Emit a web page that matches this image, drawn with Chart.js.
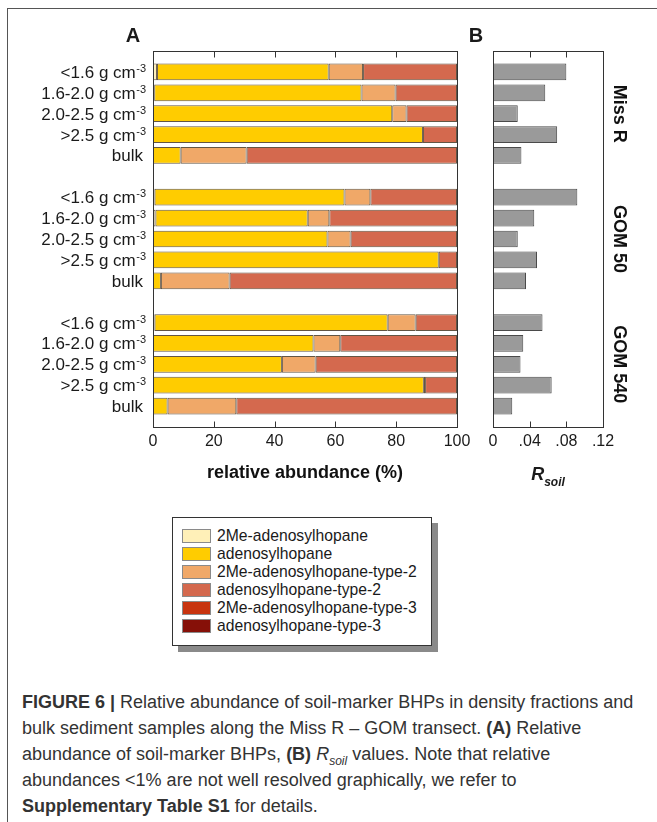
<!DOCTYPE html>
<html>
<head>
<meta charset="utf-8">
<title>Figure 6</title>
<script src="https://cdn.jsdelivr.net/npm/chart.js@4.4.1/dist/chart.umd.min.js"></script>
<style>
  body { margin: 0; background: #fff; font-family: 'Liberation Sans', Arial, sans-serif; color: #1a1a1a; }
  #page { position: relative; width: 657px; height: 822px; overflow: hidden; }
  #frame { position: absolute; left: 7px; top: 8px; width: 720px; height: 900px;
           border-left: 1px solid #555; border-top: 1px solid #555; }
  canvas { position: absolute; top: 0; }
  #chartA { left: 0; }
  #chartB { left: 470px; }
  .panel { position: absolute; font-weight: bold; font-size: 20px; line-height: 20px;
           transform: translate(-50%, -50%); }
  #rsoil { position: absolute; left: 548px; top: 464px; transform: translateX(-50%);
           font-weight: bold; font-style: italic; font-size: 18px; line-height: 20px; white-space: nowrap; }
  #rsoil sub { font-size: 12px; position: relative; top: 1px; line-height: 0; }
  #legend { position: absolute; left: 172px; top: 517px; width: 260px; height: 129px;
            box-sizing: border-box; border: 1px solid #333; background: #fff;
            box-shadow: 6px 6px 0 #8a8a8a; padding: 9px 0 0 9px; }
  .legend-item { display: flex; align-items: center; height: 18px; font-size: 15.7px; white-space: nowrap; }
  .legend-swatch { width: 29px; height: 14px; box-sizing: border-box; border: 1px solid #8a8a8a; margin-right: 6px; }
  #caption { position: absolute; left: 22px; top: 689px; font-size: 18px; line-height: 26px; color: #333; }
  #caption div { white-space: nowrap; height: 26px; }
  #caption sub { font-size: 12px; line-height: 0; }
</style>
</head>
<body>
<div id="page">
  <div id="frame"></div>
  <canvas id="chartA" width="480" height="488"></canvas>
  <canvas id="chartB" width="187" height="488"></canvas>
  <div class="panel" style="left:133px; top:35px;">A</div>
  <div class="panel" style="left:476px; top:35px;">B</div>
  <div id="rsoil">R<sub>soil</sub></div>
  <div id="legend"></div>
  <div id="caption">
    <div><b>FIGURE 6 |</b> Relative abundance of soil-marker BHPs in density fractions and</div>
    <div>bulk sediment samples along the Miss R – GOM transect. <b>(A)</b> Relative</div>
    <div>abundance of soil-marker BHPs, <b>(B)</b> <i>R<sub>soil</sub></i> values. Note that relative</div>
    <div>abundances &lt;1% are not well resolved graphically, we refer to</div>
    <div><b>Supplementary Table S1</b> for details.</div>
  </div>
</div>
<script>
const groupNames = ['Miss R', 'GOM 50', 'GOM 540'];
const fractionLabels = ['<1.6 g cm-3', '1.6-2.0 g cm-3', '2.0-2.5 g cm-3', '>2.5 g cm-3', 'bulk'];
const compoundNames = ['2Me-adenosylhopane', 'adenosylhopane', '2Me-adenosylhopane-type-2',
                       'adenosylhopane-type-2', '2Me-adenosylhopane-type-3', 'adenosylhopane-type-3'];
const compoundColors = ['#fff0b8', '#ffcc00', '#f0a868', '#d4694e', '#c8340f', '#861008'];

// relative abundance (%), rows: Miss R, GOM 50, GOM 540, each in fractionLabels order
const me2Adeno = [1.3, 0.4, 0, 0, 0,   0.5, 0.8, 0, 0, 0,   0.5, 0, 0, 0, 0];
const adeno    = [56.5, 68.2, 78.7, 88.8, 9.1,   62.5, 50.1, 57.4, 94.0, 2.6,   76.7, 52.8, 42.4, 89.1, 4.8];
const me2Type2 = [11.3, 11.2, 4.7, 0, 21.7,   8.5, 7.1, 7.6, 0, 22.6,   9.2, 8.8, 11.1, 0.4, 22.6];
const type2    = [30.9, 20.2, 16.6, 11.2, 69.2,   28.5, 42.0, 35.0, 6.0, 74.8,   13.6, 38.4, 46.5, 10.5, 72.6];
const me2Type3 = [0, 0, 0, 0, 0,   0, 0, 0, 0, 0,   0, 0, 0, 0, 0];
const type3    = [0, 0, 0, 0, 0,   0, 0, 0, 0, 0,   0, 0, 0, 0, 0];

// R_soil values, same row order
const rSoil = [0.080, 0.057, 0.027, 0.070, 0.031,   0.092, 0.045, 0.027, 0.048, 0.036,   0.054, 0.033, 0.030, 0.064, 0.021];

const abundanceTicks = [0, 20, 40, 60, 80, 100];
const rsoilTicks = [0, 0.04, 0.08, 0.12];

Chart.defaults.font.family = "'Liberation Sans', Arial, sans-serif";
Chart.defaults.color = '#1a1a1a';

// one empty slot between the sample groups
const rowPos = groupNames.flatMap((g, gi) =>
    fractionLabels.map((f, fi) => gi * (fractionLabels.length + 1) + fi));
const lastRow = rowPos[rowPos.length - 1];

function toPoints(values) {
    return values.map((v, i) => ({ x: v, y: rowPos[i] })).filter((p) => p.x > 0);
}

const framePlugin = {
    id: 'frame',
    afterDatasetsDraw(chart) {
        const { ctx, chartArea: a } = chart;
        const x = chart.scales.x;
        ctx.save();
        ctx.strokeStyle = '#333';
        ctx.lineWidth = 1;
        const l = Math.round(a.left) + 0.5, t = Math.round(a.top) + 0.5;
        const r = Math.round(a.right) + 0.5, b = Math.round(a.bottom) + 0.5;
        ctx.strokeRect(l, t, r - l, b - t);
        ctx.beginPath();
        x.ticks.forEach((tick) => {
            const px = Math.round(x.getPixelForValue(tick.value)) + 0.5;
            ctx.moveTo(px, t);
            ctx.lineTo(px, t + 6);
            ctx.moveTo(px, b);
            ctx.lineTo(px, b - 6);
        });
        ctx.stroke();
        ctx.restore();
    }
};

const rowLabelPlugin = {
    id: 'rowLabels',
    afterDraw(chart) {
        const { ctx, chartArea } = chart;
        const y = chart.scales.y;
        ctx.save();
        ctx.fillStyle = '#1a1a1a';
        ctx.textAlign = 'right';
        ctx.textBaseline = 'alphabetic';
        rowPos.forEach((p, i) => {
            const label = fractionLabels[i % fractionLabels.length];
            const base = y.getPixelForValue(p) + 6;
            let x = chartArea.left - 7;
            if (label.endsWith('cm-3')) {
                ctx.font = "11px 'Liberation Sans', Arial, sans-serif";
                ctx.fillText('-3', x, base - 6);
                x -= ctx.measureText('-3').width + 0.5;
                ctx.font = "17px 'Liberation Sans', Arial, sans-serif";
                ctx.fillText(label.slice(0, -2), x, base);
            } else {
                ctx.font = "17px 'Liberation Sans', Arial, sans-serif";
                ctx.fillText(label, x - 3, base);
            }
        });
        ctx.restore();
    }
};

const groupLabelPlugin = {
    id: 'groupLabels',
    afterDraw(chart) {
        const ctx = chart.ctx;
        const y = chart.scales.y;
        const mid = Math.floor(fractionLabels.length / 2);
        ctx.save();
        ctx.fillStyle = '#111';
        ctx.font = "bold 18px 'Liberation Sans', Arial, sans-serif";
        ctx.textAlign = 'center';
        ctx.textBaseline = 'middle';
        groupNames.forEach((name, gi) => {
            const py = y.getPixelForValue(rowPos[gi * fractionLabels.length + mid]);
            ctx.save();
            ctx.translate(149, py);
            ctx.rotate(Math.PI / 2);
            ctx.fillText(name, 0, 0);
            ctx.restore();
        });
        ctx.restore();
    }
};

function yAxis(width) {
    return {
        type: 'linear',
        reverse: true,
        offset: false,
        min: -1,
        max: lastRow + 1,
        stacked: true,
        ticks: { display: false },
        grid: { display: false, drawTicks: false, offset: false },
        border: { display: false },
        afterFit: (s) => { s.width = width; }
    };
}

function xAxis(min, max, tickValues, format, title) {
    return {
        type: 'linear',
        min: min,
        max: max,
        stacked: true,
        afterBuildTicks: (s) => { s.ticks = tickValues.map((v) => ({ value: v })); },
        ticks: {
            font: { size: 16 },
            color: '#1a1a1a',
            padding: 5,
            maxRotation: 0,
            callback: format
        },
        grid: { display: false, drawTicks: false },
        border: { display: false },
        title: {
            display: !!title,
            text: title || '',
            font: { size: 18, weight: 'bold' },
            color: '#111',
            padding: { top: 4, bottom: 4 }
        },
        afterFit: (s) => { s.height = 61; }
    };
}

const seriesA = [me2Adeno, adeno, me2Type2, type2, me2Type3, type3];

new Chart(document.getElementById('chartA'), {
    type: 'bar',
    data: {
        datasets: seriesA.map((values, k) => ({
            label: compoundNames[k],
            data: toPoints(values),
            backgroundColor: compoundColors[k],
            borderColor: 'rgba(70,55,35,0.85)',
            borderWidth: 1,
            borderSkipped: false,
            categoryPercentage: 1,
            barPercentage: 0.8
        }))
    },
    options: {
        indexAxis: 'y',
        responsive: false,
        animation: false,
        devicePixelRatio: 1,
        layout: { padding: { left: 0, top: 51, right: 23, bottom: 0 } },
        plugins: { legend: { display: false }, tooltip: { enabled: false } },
        scales: {
            x: xAxis(0, 100, abundanceTicks, (v) => String(v), 'relative abundance (%)'),
            y: yAxis(153)
        }
    },
    plugins: [framePlugin, rowLabelPlugin]
});

new Chart(document.getElementById('chartB'), {
    type: 'bar',
    data: {
        datasets: [{
            label: 'Rsoil',
            data: toPoints(rSoil),
            backgroundColor: '#9a9a9a',
            borderColor: '#4a4a4a',
            borderWidth: 1,
            borderSkipped: false,
            categoryPercentage: 1,
            barPercentage: 0.8
        }]
    },
    options: {
        indexAxis: 'y',
        responsive: false,
        animation: false,
        devicePixelRatio: 1,
        layout: { padding: { left: 0, top: 51, right: 54, bottom: 0 } },
        plugins: { legend: { display: false }, tooltip: { enabled: false } },
        scales: {
            x: xAxis(0, 0.12, rsoilTicks, (v) => (v === 0 ? '0' : v.toFixed(2).replace(/^0/, '')), null),
            y: yAxis(23)
        }
    },
    plugins: [framePlugin, groupLabelPlugin]
});

const legendRoot = document.getElementById('legend');
compoundNames.forEach((name, k) => {
    const item = document.createElement('div');
    item.className = 'legend-item';
    const swatch = document.createElement('div');
    swatch.className = 'legend-swatch';
    swatch.style.backgroundColor = compoundColors[k];
    const label = document.createElement('div');
    label.textContent = name;
    item.appendChild(swatch);
    item.appendChild(label);
    legendRoot.appendChild(item);
});
</script>
</body>
</html>
